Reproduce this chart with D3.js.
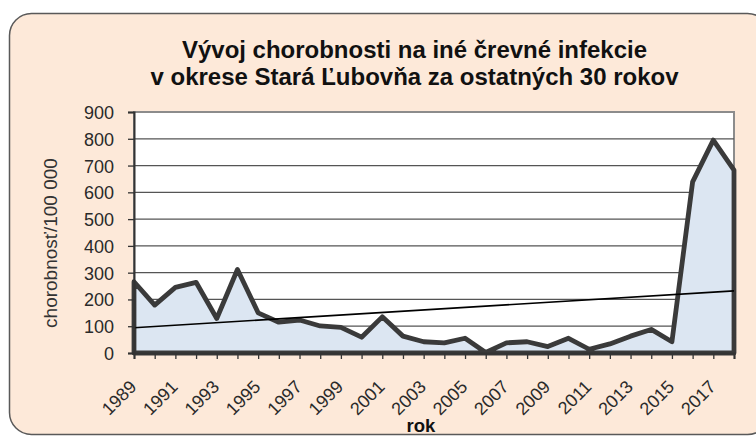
<!DOCTYPE html>
<html>
<head>
<meta charset="utf-8">
<script src="https://cdn.jsdelivr.net/npm/d3@7"></script>
<style>
  body { margin: 0; background: #fff; }
  svg { display: block; }
</style>
</head>
<body>
<svg id="chart" width="756" height="436"></svg>
<script>
// data
const years = [1989, 1990, 1991, 1992, 1993, 1994, 1995, 1996, 1997, 1998,
               1999, 2000, 2001, 2002, 2003, 2004, 2005, 2006, 2007, 2008,
               2009, 2010, 2011, 2012, 2013, 2014, 2015, 2016, 2017, 2018];
const incidence = [266, 179, 245, 264, 129, 312, 150, 115, 123, 101,
                   96, 59, 135, 63, 42, 38, 55, 2, 38, 42,
                   24, 55, 14, 34, 63, 88, 42, 639, 795, 683];
const yTicks = [0, 100, 200, 300, 400, 500, 600, 700, 800, 900];
const xLabels = [1989, 1991, 1993, 1995, 1997, 1999, 2001, 2003, 2005,
                 2007, 2009, 2011, 2013, 2015, 2017];
const titleLines = ["Vývoj chorobnosti na iné črevné infekcie",
                    "v okrese Stará Ľubovňa za ostatných 30 rokov"];

const svg = d3.select("#chart");
const plotL = 134, plotR = 734, plotT = 112, plotB = 353;

// chart background
svg.append("rect")
    .attr("x", 9.5).attr("y", 13.5)
    .attr("width", 760).attr("height", 421)
    .attr("rx", 22)
    .attr("fill", "#fde9d9")
    .attr("stroke", "#595959")
    .attr("stroke-width", 1.5);

// title
svg.selectAll(".title")
    .data(titleLines)
    .enter()
    .append("text")
    .attr("class", "title")
    .attr("x", 414.5)
    .attr("y", (d, i) => 58 + i * 27)
    .attr("text-anchor", "middle")
    .attr("textLength", (d, i) => i === 0 ? 465 : 528)
    .attr("lengthAdjust", "spacingAndGlyphs")
    .style("font-family", "'Liberation Sans', Arial, sans-serif")
    .style("font-weight", "bold")
    .style("font-size", "23px")
    .attr("fill", "#111")
    .text(d => d);

const x = d3.scalePoint().domain(years).range([plotL, plotR]);
const y = d3.scaleLinear().domain([0, 900]).range([plotB, plotT]);

// plot area
svg.append("rect")
    .attr("x", plotL).attr("y", plotT)
    .attr("width", plotR - plotL).attr("height", plotB - plotT)
    .attr("fill", "#fff")
    .attr("stroke", "#8c8c8c")
    .attr("stroke-width", 2);

// gridlines
svg.selectAll(".grid")
    .data(yTicks.slice(1, -1))
    .enter()
    .append("line")
    .attr("class", "grid")
    .attr("x1", plotL).attr("x2", plotR)
    .attr("y1", d => y(d)).attr("y2", d => y(d))
    .attr("stroke", "#555")
    .attr("stroke-width", 1.3);

// area series
const area = d3.area()
    .x((d, i) => x(years[i]))
    .y0(y(0))
    .y1(d => y(d));

svg.append("path")
    .datum(incidence)
    .attr("d", area)
    .attr("fill", "#dce6f2")
    .attr("stroke", "#3a3a3a")
    .attr("stroke-width", 4.8)
    .attr("stroke-linejoin", "round");

// linear trend (least squares)
const n = years.length;
const mx = d3.mean(d3.range(n));
const my = d3.mean(incidence);
const slope = d3.sum(incidence, (v, i) => (i - mx) * (v - my)) /
              d3.sum(d3.range(n), i => (i - mx) * (i - mx));
const icpt = my - slope * mx;

svg.append("line")
    .attr("x1", x(years[0])).attr("y1", y(icpt))
    .attr("x2", x(years[n - 1])).attr("y2", y(icpt + slope * (n - 1)))
    .attr("stroke", "#000")
    .attr("stroke-width", 1.6);

// axes
const yAxis = svg.append("g")
    .attr("transform", `translate(${plotL},0)`)
    .call(d3.axisLeft(y).tickValues(yTicks).tickSize(6).tickPadding(14));

const xAxis = svg.append("g")
    .attr("transform", `translate(0,${plotB})`)
    .call(d3.axisBottom(x).tickSize(6).tickFormat(d => xLabels.includes(d) ? d : ""));

[yAxis, xAxis].forEach(g => {
    g.select(".domain").attr("stroke", "#333").attr("stroke-width", 2);
    g.selectAll(".tick line").attr("stroke", "#333").attr("stroke-width", 1.3);
    g.selectAll("text")
        .style("font-family", "'Liberation Sans', Arial, sans-serif")
        .style("font-size", "18px")
        .attr("fill", "#2a2a2a");
});

yAxis.selectAll("text").attr("dy", "0.36em");

xAxis.selectAll("text")
    .attr("text-anchor", "end")
    .attr("y", 0)
    .attr("dy", 0)
    .attr("transform", "translate(3,35) rotate(-45)");

// axis titles
svg.append("text")
    .attr("transform", "translate(57,243) rotate(-90)")
    .attr("text-anchor", "middle")
    .style("font-family", "'Liberation Sans', Arial, sans-serif")
    .style("font-size", "19px")
    .attr("fill", "#333")
    .text("chorobnosť/100 000");

svg.append("text")
    .attr("x", 421).attr("y", 432)
    .attr("text-anchor", "middle")
    .style("font-family", "'Liberation Sans', Arial, sans-serif")
    .style("font-weight", "bold")
    .style("font-size", "18.5px")
    .attr("fill", "#111")
    .text("rok");
</script>
</body>
</html>
